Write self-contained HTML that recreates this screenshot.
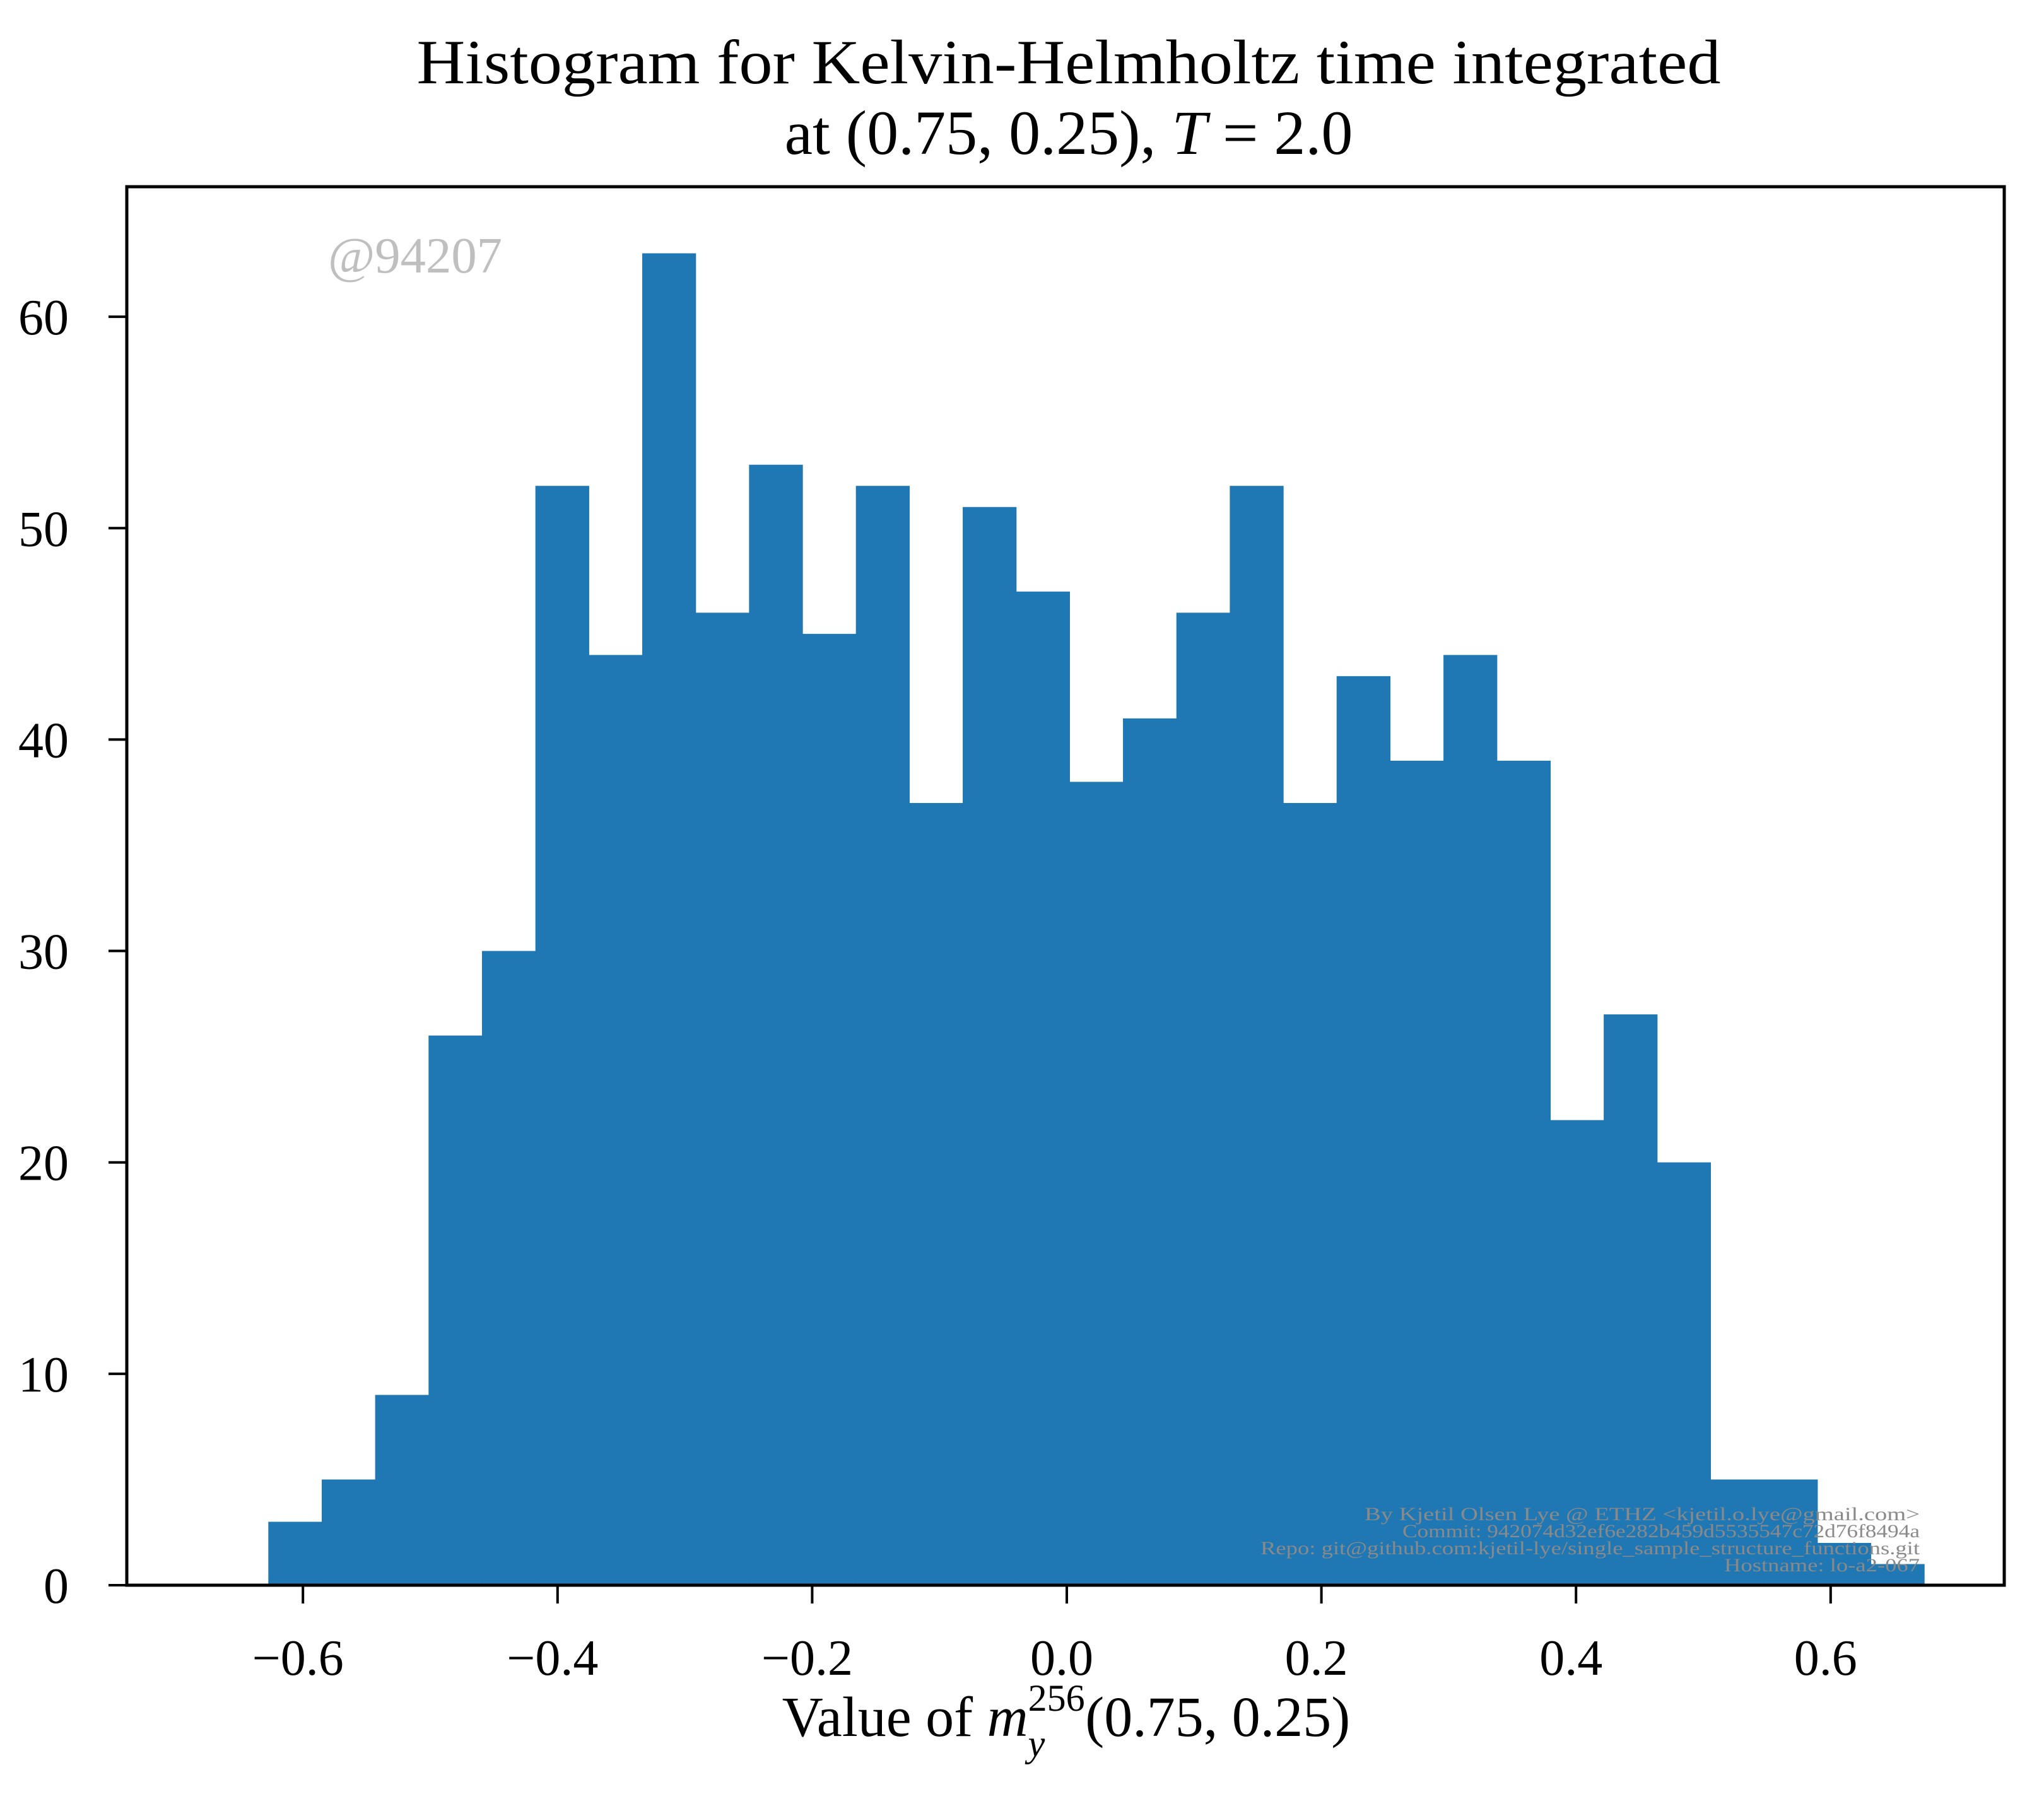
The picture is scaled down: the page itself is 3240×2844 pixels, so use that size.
<!DOCTYPE html>
<html><head><meta charset="utf-8"><style>
html,body{margin:0;padding:0;background:#fff;}
svg{display:block;}
text{font-family:"Liberation Serif","DejaVu Serif",serif;}
</style></head><body>
<svg id="chart" width="3240" height="2844" viewBox="0 0 3240 2844" xmlns="http://www.w3.org/2000/svg">
<rect x="0" y="0" width="3240" height="2844" fill="#fff"/>
<g id="bars"></g>
<g id="xticks"></g>
<g id="yticks"></g>
<rect x="201" y="296" width="2976" height="2217" fill="none" stroke="#000" stroke-width="5"/>
<text x="1694" y="132" font-size="100" text-anchor="middle" textLength="2067" lengthAdjust="spacingAndGlyphs">Histogram for Kelvin-Helmholtz time integrated</text>
<text x="1694" y="244" font-size="100" text-anchor="middle">at (0.75, 0.25), <tspan font-style="italic">T</tspan> = 2.0</text>
<text x="1690" y="2752" font-size="90" text-anchor="middle">Value of <tspan font-style="italic">m</tspan><tspan font-size="60" dy="-40">256</tspan><tspan font-size="60" font-style="italic" dx="-90" dy="72">y</tspan><tspan dx="64" dy="-32">(0.75, 0.25)</tspan></text>
<text x="520" y="432" font-size="80" fill="#bfbfbf" textLength="276" lengthAdjust="spacingAndGlyphs">@94207</text>
<g fill="#8a8a8a" font-size="30" text-anchor="end">
<text x="3043" y="2410" textLength="880" lengthAdjust="spacingAndGlyphs">By Kjetil Olsen Lye @ ETHZ &lt;kjetil.o.lye@gmail.com&gt;</text>
<text x="3043" y="2437" textLength="820" lengthAdjust="spacingAndGlyphs">Commit: 942074d32ef6e282b459d5535547c72d76f8494a</text>
<text x="3043" y="2464" textLength="1045" lengthAdjust="spacingAndGlyphs">Repo: git@github.com:kjetil-lye/single_sample_structure_functions.git</text>
<text x="3043" y="2491" textLength="310" lengthAdjust="spacingAndGlyphs">Hostname: lo-a2-067</text>
</g>
</svg>
<script>
const counts = [3,5,9,26,30,52,44,63,46,53,45,52,37,51,47,38,41,46,52,37,43,39,44,39,22,27,20,5,5,2,1];
const binStart = -0.6272;
const binEnd = 0.6735;
const xTickValues = [-0.6,-0.4,-0.2,0.0,0.2,0.4,0.6];
const xTickLabels = ["\u22120.6","\u22120.4","\u22120.2","0.0","0.2","0.4","0.6"];
const yTickValues = [0,10,20,30,40,50,60];
const yTickLabels = ["0","10","20","30","40","50","60"];

const NS = "http://www.w3.org/2000/svg";
const leftX = 201, rightX = 3177, topY = 296, bottomY = 2513;
const xMin = (leftX - 1691) / 2018, xMax = (rightX - 1691) / 2018;
const yMax = 66.15;
function xs(v){ return leftX + (v - xMin) / (xMax - xMin) * (rightX - leftX); }
function ys(v){ return bottomY - v / yMax * (bottomY - topY); }

const bars = document.getElementById('bars');
const w = (binEnd - binStart) / counts.length;
counts.forEach((c, i) => {
  const r = document.createElementNS(NS, 'rect');
  const x0 = xs(binStart + i * w), x1 = xs(binStart + (i + 1) * w);
  r.setAttribute('x', x0);
  r.setAttribute('y', ys(c));
  r.setAttribute('width', x1 - x0 + 0.6);
  r.setAttribute('height', ys(0) - ys(c));
  r.setAttribute('fill', '#1f77b4');
  
  
  bars.appendChild(r);
});

const xg = document.getElementById('xticks');
xTickValues.forEach((v, i) => {
  const x = xs(v);
  const l = document.createElementNS(NS, 'line');
  l.setAttribute('x1', x); l.setAttribute('x2', x);
  l.setAttribute('y1', bottomY); l.setAttribute('y2', bottomY + 29);
  l.setAttribute('stroke', '#000'); l.setAttribute('stroke-width', '4');
  
  
  xg.appendChild(l);
  const t = document.createElementNS(NS, 'text');
  t.setAttribute('x', x - 8); t.setAttribute('y', bottomY + 142);
  t.setAttribute('font-size', '80'); t.setAttribute('text-anchor', 'middle');
  t.textContent = xTickLabels[i];
  
  
  xg.appendChild(t);
});

const yg = document.getElementById('yticks');
yTickValues.forEach((v, i) => {
  const y = ys(v);
  const l = document.createElementNS(NS, 'line');
  l.setAttribute('x1', leftX - 29); l.setAttribute('x2', leftX);
  l.setAttribute('y1', y); l.setAttribute('y2', y);
  l.setAttribute('stroke', '#000'); l.setAttribute('stroke-width', '4');
  
  
  yg.appendChild(l);
  const t = document.createElementNS(NS, 'text');
  t.setAttribute('x', leftX - 92); t.setAttribute('y', y + 28);
  t.setAttribute('font-size', '80'); t.setAttribute('text-anchor', 'end');
  t.textContent = yTickLabels[i];
  
  
  yg.appendChild(t);
});
</script>
</body></html>
